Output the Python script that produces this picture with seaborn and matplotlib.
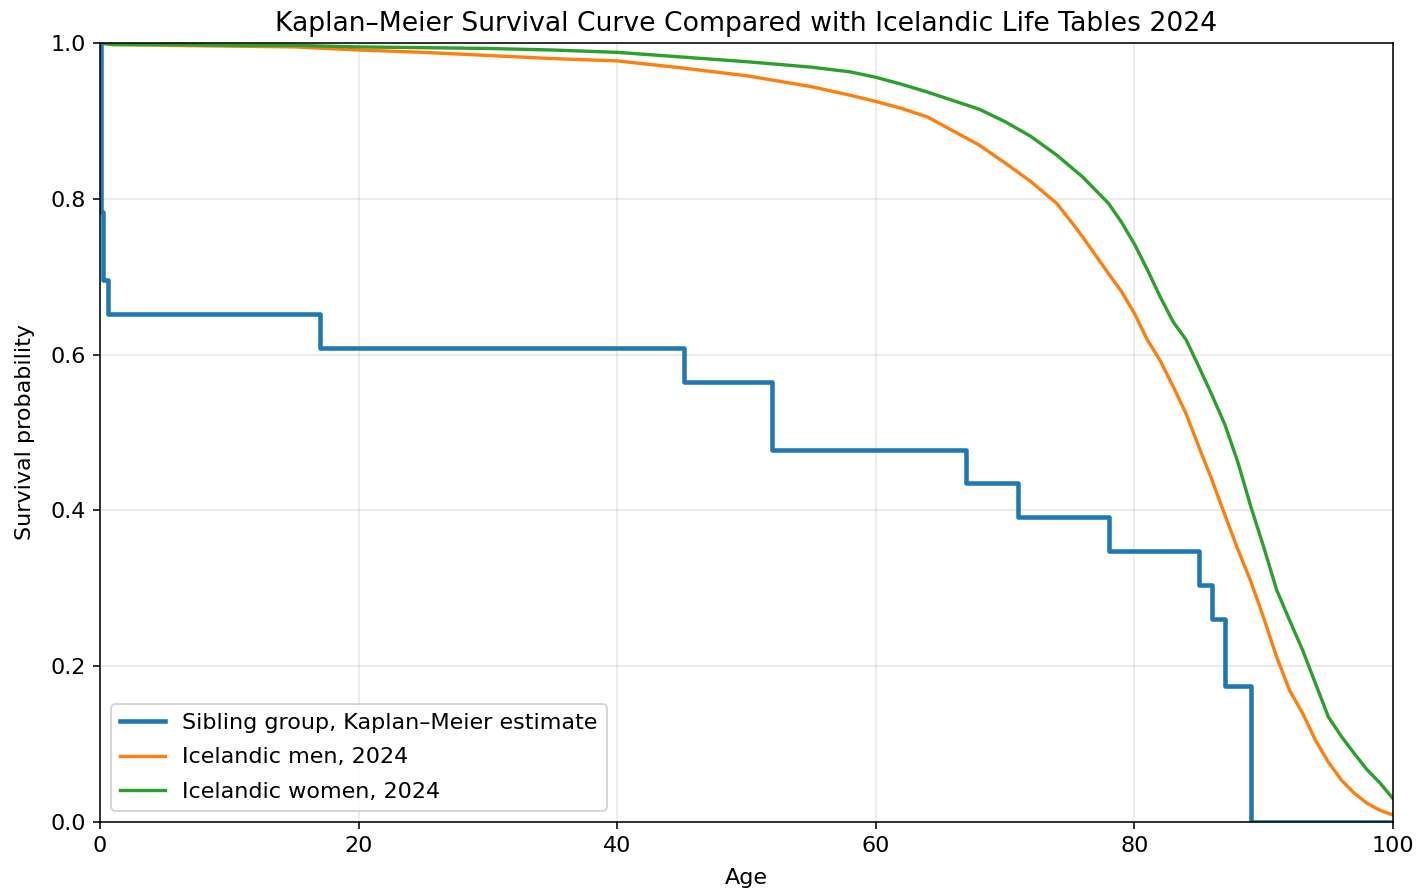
import matplotlib
matplotlib.use("Agg")
import matplotlib.pyplot as plt
import pandas as pd
import seaborn as sns

# Kaplan-Meier estimate for the sibling group (step function)
km_time = [0, 0.05, 0.25, 0.6, 17, 45.2, 52, 67, 71, 78, 85, 86, 87, 89, 100]
km_surv = [1.0, 0.783, 0.696, 0.652, 0.609, 0.565, 0.478, 0.435, 0.391,
           0.348, 0.304, 0.261, 0.174, 0.0, 0.0]

# Icelandic life tables 2024 (survivors)
lt_age = [0, 1, 5, 10, 15, 20, 25, 30, 35, 40, 45, 50, 55, 58, 60, 62, 64, 66,
          68, 70, 72, 74, 75, 76, 78, 79, 80, 81, 82, 83, 84, 85, 86, 87, 88, 89,
          90, 91, 92, 93, 94, 95, 96, 97, 98, 99, 100]
men = [1.0, 0.998, 0.997, 0.996, 0.995, 0.991, 0.988, 0.984, 0.980, 0.977,
       0.968, 0.958, 0.944, 0.933, 0.925, 0.916, 0.905, 0.887, 0.869, 0.846,
       0.822, 0.794, 0.773, 0.751, 0.704, 0.681, 0.653, 0.619, 0.592, 0.559,
       0.524, 0.481, 0.439, 0.394, 0.350, 0.309, 0.262, 0.212, 0.169, 0.140,
       0.105, 0.077, 0.054, 0.037, 0.024, 0.015, 0.009]
women = [1.0, 0.998, 0.998, 0.997, 0.997, 0.995, 0.994, 0.993, 0.991, 0.988,
         0.982, 0.976, 0.969, 0.963, 0.956, 0.947, 0.937, 0.926, 0.915, 0.899,
         0.880, 0.856, 0.842, 0.828, 0.794, 0.770, 0.742, 0.709, 0.674, 0.642,
         0.619, 0.584, 0.548, 0.510, 0.462, 0.405, 0.353, 0.298, 0.259, 0.221,
         0.178, 0.135, 0.110, 0.088, 0.067, 0.050, 0.030]

km = pd.DataFrame({"age": km_time, "surv": km_surv})
lt = pd.DataFrame({"age": lt_age, "men": men, "women": women})

plt.rcParams["font.size"] = 11.3

fig = plt.figure(figsize=(10, 893 / 141.9), dpi=141.9)
ax = fig.add_axes([100 / 1419, 1 - 822 / 893, 1293 / 1419, 779 / 893])

sns.lineplot(data=km, x="age", y="surv", ax=ax, color="C0", linewidth=2.3,
             drawstyle="steps-post", estimator=None,
             label="Sibling group, Kaplan\u2013Meier estimate")
sns.lineplot(data=lt, x="age", y="men", ax=ax, color="C1", linewidth=1.7,
             estimator=None, label="Icelandic men, 2024")
sns.lineplot(data=lt, x="age", y="women", ax=ax, color="C2", linewidth=1.7,
             estimator=None, label="Icelandic women, 2024")

ax.set_xlim(0, 100)
ax.set_ylim(0, 1)
ax.set_xlabel("Age", fontsize=11.3, labelpad=6)
ax.set_ylabel("Survival probability", fontsize=11.3, labelpad=8)
ax.set_title("Kaplan\u2013Meier Survival Curve Compared with Icelandic Life Tables 2024",
             fontsize=13.5)
ax.tick_params(labelsize=11.3)
ax.grid(True, alpha=0.3)
ax.legend(loc="lower left", fontsize=11.3, labelspacing=0.65)

fig.savefig("out.png", dpi=141.9)
